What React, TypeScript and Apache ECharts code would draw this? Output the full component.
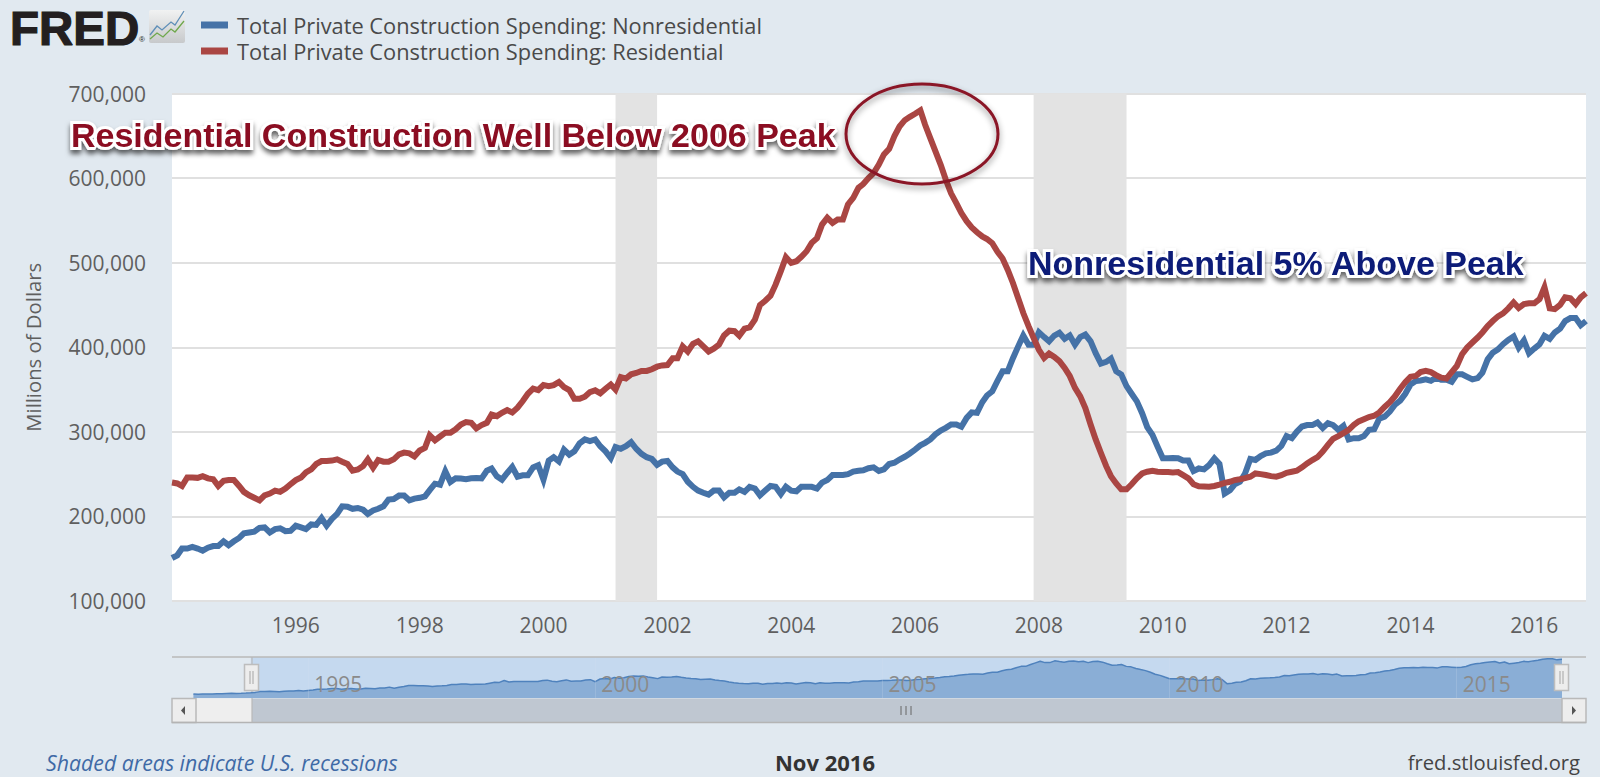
import React, { useEffect, useRef } from "react";
import * as echarts from "echarts";

const nonresidentialName = "Total Private Construction Spending: Nonresidential";
const residentialName = "Total Private Construction Spending: Residential";

// Millions of dollars, monthly from Jan 1994 to Nov 2016
const residential = [
  240000,239000,236000,246000,246000,245600,247600,245000,244000,236000,242000,243000,
  243000,236000,229000,225000,222000,219000,225000,227000,230500,229000,233000,238000,
  243000,246000,252000,255500,262000,265500,265500,266000,267500,264700,262000,254000,
  255500,259500,267500,257500,266700,264700,264700,267500,273400,275400,274600,271000,
  278000,281000,296000,290000,294500,299000,299000,303000,308700,311500,310700,304000,
  308000,310700,320500,318600,322500,325700,323000,328500,336400,345000,351000,349400,
  355300,354000,355300,359000,353000,349400,339000,339000,341500,347000,349000,345500,
  351000,356000,350000,364800,363000,368000,369600,372000,372000,374000,377000,378500,
  379000,387000,387000,401000,395000,404000,407000,401000,395000,398300,403000,414000,
  419600,419000,413700,422000,423500,432600,450000,455000,461000,474000,490000,506400,
  499700,501700,507000,513500,523400,529000,545000,553000,547000,551000,551000,568800,
  576700,588500,593000,600000,606000,616000,628000,634600,649600,661000,668500,672400,
  676000,680000,663000,647000,631500,615700,598000,582000,570500,558700,549000,541700,
  536000,531000,528000,523000,513000,505000,491700,476000,458000,440500,425000,411000,
  397000,387400,392500,388600,383500,375600,366000,352000,342000,328000,308700,291000,
  275000,259400,247600,239000,232000,232000,238000,245000,250800,252800,254000,252800,
  252400,252400,252000,252400,248800,245000,238000,235700,235300,235000,236000,237700,
  239700,241000,243000,244000,245200,247000,250800,250000,249000,247600,247000,248800,
  251600,252800,254000,258000,262700,266700,270000,276600,284500,291700,295000,298400,
  302400,308300,312300,315000,317500,319000,323000,329400,335000,342000,351000,358700,
  365000,366000,370600,372000,370600,367000,364000,363000,370600,377800,391700,399600,
  405600,411500,417500,425000,431000,436500,440000,446000,453000,446400,451000,452000,
  452000,457000,471000,446000,445000,450000,459000,458000,451000,459000,464000,
];

const nonresidential = [
  150800,154000,162000,162000,164000,162000,159500,163000,165000,165000,170600,166000,
  170600,174600,180000,181000,182000,186500,187000,181000,185000,186000,182500,183000,
  189000,187000,185000,190500,190000,198000,189000,197000,203000,212000,211500,209000,
  210000,208000,203000,207000,209000,212000,220000,220600,224600,224600,219000,221000,
  222000,223700,231000,238700,237500,253400,240700,245000,244700,244000,245000,245500,
  245000,254000,256500,247400,243500,251400,258500,247000,248600,248600,258000,260500,
  243500,266000,270000,265000,279000,273000,277000,286500,291000,289000,291000,283000,
  277000,269000,282000,280000,283000,287700,280000,274000,270000,268000,261000,264800,
  265600,258000,253000,250000,241000,235000,230500,228000,225700,230500,230500,222600,
  228000,228000,232000,229000,235000,233000,225000,230500,236000,235000,226500,235000,
  230500,229700,235000,235000,235000,233000,240000,243000,249000,249000,249000,250000,
  253000,254000,254600,257000,258000,253800,255700,262000,263400,267300,270500,274400,
  279000,284000,287000,291000,297000,301600,304700,308700,308700,306000,316500,323000,
  322400,335000,343000,348000,360000,371600,371600,387000,401000,413800,403000,403000,
  417700,412000,407000,413800,417000,410000,413800,403000,412000,415000,407000,393000,
  380700,382700,386600,371600,367700,354000,345000,336000,322000,305600,296400,282500,
  268700,268700,269000,268700,266000,266000,253600,256700,255600,260700,268700,262000,
  227000,231000,238000,241000,250800,268000,266700,271400,274600,275400,277800,283300,
  295000,292500,300000,306300,308000,308000,311000,304400,310300,308000,302400,307000,
  291000,292500,292500,295000,302400,303000,315500,318000,324000,332000,337000,345000,
  356000,360000,360700,362000,360300,364000,361500,361500,359000,368000,368000,365000,
  362000,363500,370000,385700,393600,397600,403600,408700,412700,399600,408000,392900,
  398400,403600,413500,410000,417500,422000,431000,434500,434500,426000,431000,
];

// Earlier year, shown only in the range navigator
const nonresidential1993 = [
  140000,139000,140000,141000,141000,143000,143000,145000,146000,145000,146000,148000,
];

const mainYears = [1996, 1998, 2000, 2002, 2004, 2006, 2008, 2010, 2012, 2014, 2016];
const navigatorYears = [1995, 2000, 2005, 2010, 2015];
const recessions: [number, number, number, number][] = [
  [2001, 2, 2001, 10],
  [2007, 11, 2009, 5],
];
const footerLeft = "Shaded areas indicate U.S. recessions";
const footerCenter = "Nov 2016";
const footerRight = "fred.stlouisfed.org";
const noteResidential = "Residential Construction Well Below 2006 Peak";
const noteNonresidential = "Nonresidential 5% Above Peak";

const month = (startYear: number, i: number) => Date.UTC(startYear, i, 1);
const toPairs = (startYear: number, values: number[]) =>
  values.map((v, i) => [month(startYear, i), v]);
const jan = (y: number) => Date.UTC(y, 0, 1);

const sans = '"Open Sans", sans-serif';
const arial = '"Liberation Sans", Arial, sans-serif';
const axisText = "#5f5f5f";

export default function App() {
  const ref = useRef<HTMLDivElement>(null);
  useEffect(() => {
    const chart = echarts.init(ref.current!, undefined, { renderer: "svg" });
    const start = month(1994, 0);
    const end = month(1994, residential.length - 1);
    const navigatorValues = [...nonresidential1993, ...nonresidential];

    const button = (x: number) => ({
      type: "rect",
      shape: { x, y: 698.5, width: 24, height: 24 },
      style: { fill: "#ededed", stroke: "#b9b9b9", lineWidth: 1.5 },
    });
    const handle = (x: number) => ({
      type: "group",
      z: 20,
      children: [
        {
          type: "rect",
          z: 20,
          shape: { x: x - 7, y: 664.5, width: 14, height: 26 },
          style: { fill: "#ededed", stroke: "#bdbdbd", lineWidth: 1.5 },
        },
        { type: "line", z: 21, shape: { x1: x - 1.5, y1: 671, x2: x - 1.5, y2: 684 }, style: { stroke: "#a5a5a5", lineWidth: 1 } },
        { type: "line", z: 21, shape: { x1: x + 1.5, y1: 671, x2: x + 1.5, y2: 684 }, style: { stroke: "#a5a5a5", lineWidth: 1 } },
      ],
    });
    const noteStyle = {
      fontFamily: arial,
      fontWeight: "bold",
      fontSize: 34,
      stroke: "#fff",
      lineWidth: 6,
      verticalAlign: "middle",
      textShadowBlur: 5,
      textShadowColor: "rgba(0,0,0,0.6)",
      textShadowOffsetX: 0,
      textShadowOffsetY: 4,
      shadowBlur: 5,
      shadowColor: "rgba(0,0,0,0.6)",
      shadowOffsetY: 4,
    };

    chart.setOption({
      animation: false,
      backgroundColor: "transparent",
      useUTC: true,
      textStyle: { fontFamily: sans },
      legend: {
        left: 201,
        top: 13,
        padding: 0,
        orient: "vertical",
        data: [nonresidentialName, residentialName],
        icon: "rect",
        itemWidth: 27,
        itemHeight: 7,
        itemGap: 2,
        selectedMode: false,
        textStyle: { fontFamily: sans, fontSize: 21.8, color: "#4a4a4a", lineHeight: 24, padding: [0, 0, 0, 4] },
      },
      grid: [
        { left: 172, right: 14, top: 93.5, height: 507.5, show: true, backgroundColor: "#fff", borderWidth: 0 },
        { left: 193.4, width: 1368.6, top: 657, height: 41, show: false },
      ],
      xAxis: [
        {
          type: "value",
          gridIndex: 0,
          min: start,
          max: end,
          axisLine: { show: false },
          axisTick: { show: false },
          splitLine: { show: false },
          axisLabel: {
            customValues: mainYears.map(jan),
            formatter: (v: number) => String(new Date(v).getUTCFullYear()),
            fontFamily: sans,
            fontSize: 21,
            color: axisText,
            margin: 13,
            hideOverlap: false,
          },
        },
        {
          type: "value",
          gridIndex: 1,
          min: month(1993, 0),
          max: end,
          axisLine: { show: false },
          axisTick: { show: false },
          splitLine: { show: false },
          axisLabel: {
            inside: true,
            customValues: navigatorYears.map(jan),
            formatter: (v: number) => String(new Date(v).getUTCFullYear()),
            fontFamily: sans,
            fontSize: 21,
            color: "#8a8a8a",
            align: "left",
            margin: 4,
            padding: [0, 0, 0, 6],
          },
          z: 6,
        },
      ],
      yAxis: [
        {
          type: "value",
          gridIndex: 0,
          min: 100000,
          max: 700000,
          interval: 100000,
          axisLine: { show: false },
          axisTick: { show: false },
          splitLine: { lineStyle: { color: "#e0e0e0", width: 2 } },
          axisLabel: {
            formatter: (v: number) => v.toLocaleString("en-US"),
            fontFamily: sans,
            fontSize: 21,
            color: axisText,
            margin: 26,
          },
          name: "Millions of Dollars",
          nameLocation: "middle",
          nameRotate: 90,
          nameGap: 129,
          nameTextStyle: { fontFamily: sans, fontSize: 20.3, color: axisText },
        },
        { type: "value", gridIndex: 1, min: 107000, max: 450000, show: false, splitLine: { show: false } },
      ],
      series: [
        {
          name: nonresidentialName,
          type: "line",
          xAxisIndex: 0,
          yAxisIndex: 0,
          showSymbol: false,
          symbol: "none",
          clip: true,
          z: 3,
          data: toPairs(1994, nonresidential),
          itemStyle: { color: "#4572a7" },
          lineStyle: { color: "#4572a7", width: 6, join: "miter" },
          markArea: {
            silent: true,
            itemStyle: { color: "#e3e3e3" },
            data: recessions.map(([a, b, c, d]) => [{ xAxis: Date.UTC(a, b, 1) }, { xAxis: Date.UTC(c, d, 1) }]),
          },
        },
        {
          name: residentialName,
          type: "line",
          xAxisIndex: 0,
          yAxisIndex: 0,
          showSymbol: false,
          symbol: "none",
          z: 4,
          data: toPairs(1994, residential),
          itemStyle: { color: "#aa4643" },
          lineStyle: { color: "#aa4643", width: 6, join: "miter" },
        },
        {
          name: "Navigator",
          type: "line",
          xAxisIndex: 1,
          yAxisIndex: 1,
          showSymbol: false,
          symbol: "none",
          z: 3,
          data: toPairs(1993, navigatorValues),
          lineStyle: { color: "#4f82bd", width: 1.5 },
          areaStyle: { color: "#8aaed6", opacity: 1, origin: "start" },
          markArea: {
            silent: true,
            z: 1,
            itemStyle: { color: "#c5d9ef" },
            data: [[{ xAxis: start }, { xAxis: end }]],
          },
          markLine: {
            silent: true,
            symbol: "none",
            label: { show: false },
            lineStyle: { color: "#d5e2f1", width: 1, type: "solid", opacity: 0.2 },
            data: navigatorYears.map((y) => ({ xAxis: jan(y) })),
          },
        },
      ],
      graphic: [
        // Logo
        {
          type: "text",
          z: 50,
          style: {
            x: 10,
            y: 4,
            text: "FRED",
            fontFamily: arial,
            fontWeight: "bold",
            fontSize: 47.5,
            fill: "#231f20",
            stroke: "#231f20",
            lineWidth: 1.2,
          },
        },
        { type: "text", z: 50, style: { x: 139, y: 35, text: "®", fontFamily: arial, fontSize: 8, fill: "#231f20" } },
        {
          type: "rect",
          z: 50,
          shape: { x: 149, y: 10, width: 36, height: 33, r: 2 },
          style: {
            fill: new echarts.graphic.LinearGradient(0, 0, 0, 1, [
              { offset: 0, color: "#f1f2f2" },
              { offset: 1, color: "#c7c9cb" },
            ]),
          },
        },
        {
          type: "polyline",
          z: 51,
          shape: { points: [[150, 35], [157, 26], [162, 30], [171, 22], [175, 25], [184, 11]] },
          style: { stroke: "#5f8fb8", fill: "none", lineWidth: 1.3 },
        },
        {
          type: "polyline",
          z: 51,
          shape: { points: [[150, 39], [157, 33], [163, 37], [171, 29], [175, 32], [184, 21]] },
          style: { stroke: "#6fa84c", fill: "none", lineWidth: 1.3 },
        },
        // Range navigator chrome
        { type: "line", shape: { x1: 172, y1: 657, x2: 1586, y2: 657 }, style: { stroke: "#b9b9b9", lineWidth: 1.5 }, z: 10 },
        { type: "rect", shape: { x: 195, y: 698.5, width: 57, height: 24 }, style: { fill: "#eeeeee" } },
        { type: "rect", shape: { x: 252, y: 698.5, width: 1310, height: 24 }, style: { fill: "#bfc7d1" } },
        { type: "line", shape: { x1: 172, y1: 722.5, x2: 1586, y2: 722.5 }, style: { stroke: "#b4b4b4", lineWidth: 1.5 }, z: 2 },
        { type: "line", shape: { x1: 252, y1: 657, x2: 252, y2: 722 }, style: { stroke: "#b9b9b9", lineWidth: 1.2 }, z: 2 },
        button(172),
        button(1562),
        { type: "polygon", shape: { points: [[185, 706], [185, 715], [181, 710.5]] }, style: { fill: "#555" } },
        { type: "polygon", shape: { points: [[1572, 706], [1572, 715], [1576, 710.5]] }, style: { fill: "#555" } },
        { type: "line", shape: { x1: 901, y1: 706, x2: 901, y2: 715 }, style: { stroke: "#666", lineWidth: 1 } },
        { type: "line", shape: { x1: 906, y1: 706, x2: 906, y2: 715 }, style: { stroke: "#666", lineWidth: 1 } },
        { type: "line", shape: { x1: 911, y1: 706, x2: 911, y2: 715 }, style: { stroke: "#666", lineWidth: 1 } },
        handle(251.5),
        handle(1561.5),
        // Annotations
        {
          type: "ellipse",
          z: 60,
          shape: { cx: 922, cy: 134, rx: 76, ry: 50 },
          style: {
            fill: "transparent",
            stroke: "#8a1526",
            lineWidth: 3,
            shadowBlur: 6,
            shadowColor: "rgba(0,0,0,0.45)",
            shadowOffsetY: 3,
          },
        },
        {
          type: "text",
          z: 60,
          style: { ...noteStyle, x: 71, y: 135, text: noteResidential, fill: "#8b0f20" },
        },
        {
          type: "text",
          z: 60,
          style: { ...noteStyle, x: 1028, y: 263, text: noteNonresidential, fill: "#0a1a78" },
        },
        // Footer
        {
          type: "text",
          style: { x: 46, y: 762, text: footerLeft, fontFamily: sans, fontStyle: "italic", fontSize: 21.3, fill: "#3f6aa6", verticalAlign: "middle" },
        },
        {
          type: "text",
          style: { x: 825, y: 762, text: footerCenter, fontFamily: sans, fontWeight: "bold", fontSize: 22, fill: "#333", align: "center", verticalAlign: "middle" },
        },
        {
          type: "text",
          style: { x: 1580, y: 762, text: footerRight, fontFamily: sans, fontSize: 20.2, fill: "#444", align: "right", verticalAlign: "middle" },
        },
      ],
    });
    return () => chart.dispose();
  }, []);

  return (
    <div style={{ position: "absolute", left: 0, top: 0, width: 1600, height: 779, background: "#fff", overflow: "hidden" }}>
      <div style={{ position: "absolute", left: 0, top: 0, width: 1600, height: 777, background: "#e1e9f0" }} />
      <div ref={ref} style={{ position: "absolute", left: 0, top: 0, width: 1600, height: 779 }} />
    </div>
  );
}
